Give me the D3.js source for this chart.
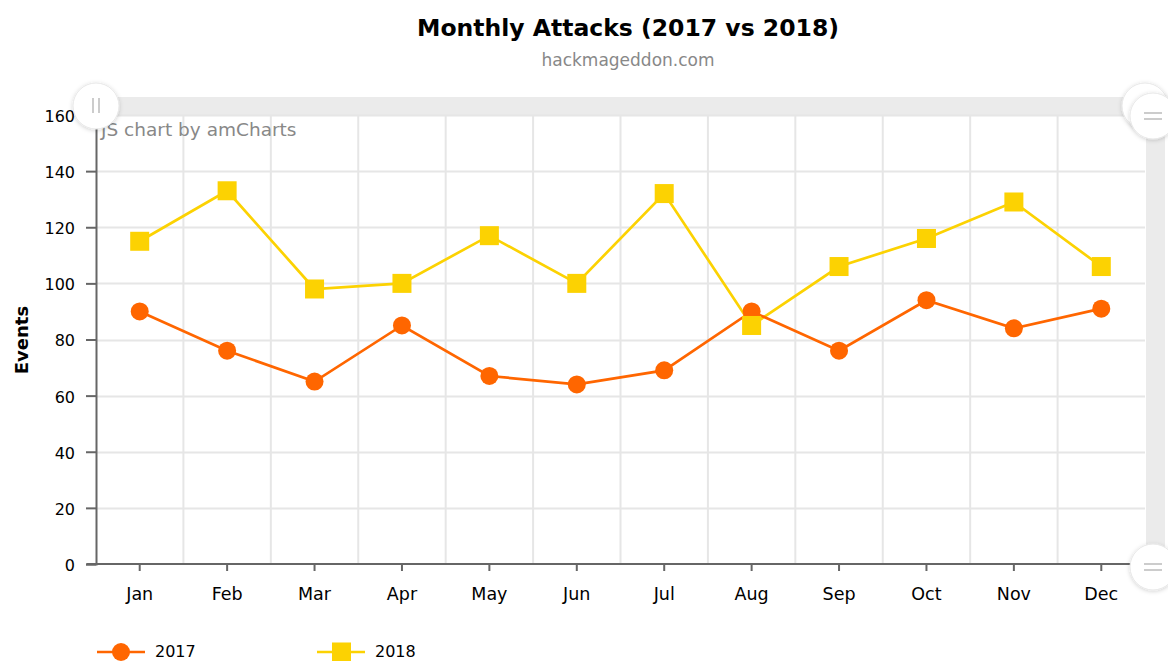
<!DOCTYPE html>
<html><head><meta charset="utf-8">
<script src="https://cdn.jsdelivr.net/npm/d3@7"></script>
<style>
html,body{margin:0;padding:0;background:#fff;}
svg{display:block;font-family:"DejaVu Sans",Verdana,sans-serif;}
</style></head>
<body><svg id="c" width="1168" height="661"></svg>
<script>
const months = ["Jan","Feb","Mar","Apr","May","Jun","Jul","Aug","Sep","Oct","Nov","Dec"];
const values2017 = [90,76,65,85,67,64,69,90,76,94,84,91];
const values2018 = [115,133,98,100,117,100,132,85,106,116,129,106];
const yTicks = [0,20,40,60,80,100,120,140,160];
const seriesNames = ["2017","2018"];

const svg = d3.select("#c");
const L = 96, R = 1145, T = 115, B = 564;
const x = d3.scaleBand().domain(months).range([L, R]).paddingInner(0).paddingOuter(0);
const y = d3.scaleLinear().domain([0,160]).range([B, T]);
const c17 = "#FF6600", c18 = "#FCD202";

// titles
svg.append("text").attr("x",628).attr("y",36).attr("text-anchor","middle")
  .attr("font-weight","bold").attr("font-size",23.5).attr("fill","#000").text("Monthly Attacks (2017 vs 2018)");
svg.append("text").attr("x",628).attr("y",66).attr("text-anchor","middle")
  .attr("font-size",17).attr("fill","#888").text("hackmageddon.com");

// scrollbars (background)
svg.append("rect").attr("x",L).attr("y",97).attr("width",R-L+10).attr("height",18).attr("fill","#ebebeb");
svg.append("rect").attr("x",R+1).attr("y",T).attr("width",19).attr("height",B-T).attr("fill","#ebebeb");

// grid
const g = svg.append("g");
g.selectAll(".hg").data(yTicks.filter(d=>d>0)).join("line")
  .attr("x1",L).attr("x2",R).attr("y1",d=>Math.round(y(d))+0.5).attr("y2",d=>Math.round(y(d))+0.5)
  .attr("stroke","#e6e6e6").attr("stroke-width",2);
g.selectAll(".vg").data(months.slice(1)).join("line")
  .attr("x1",d=>x(d)).attr("x2",d=>x(d)).attr("y1",T).attr("y2",B)
  .attr("stroke","#e6e6e6").attr("stroke-width",2);

// watermark
svg.append("text").attr("x",101).attr("y",136).attr("font-size",18.5).attr("fill","#888").text("JS chart by amCharts");

// axes
const yAxis = svg.append("g").attr("transform",`translate(${L},0)`)
  .call(d3.axisLeft(y).tickValues(yTicks).tickSize(10).tickPadding(11));
yAxis.select(".domain").attr("stroke","#666").attr("stroke-width",2);
yAxis.selectAll(".tick line").attr("stroke","#666").attr("stroke-width",2);
yAxis.selectAll("text").attr("font-size",16).attr("fill","#000").attr("font-family","DejaVu Sans").attr("dy","0.4em");

const xAxis = svg.append("g").attr("transform",`translate(0,${B})`)
  .call(d3.axisBottom(x).tickSize(7).tickPadding(17).tickSizeOuter(0));
xAxis.select(".domain").attr("d",`M${L-9},0H${R}`).attr("stroke","#666").attr("stroke-width",2);
xAxis.selectAll(".tick line").attr("stroke","#666").attr("stroke-width",2);
xAxis.selectAll("text").attr("font-size",17.5).attr("fill","#000").attr("font-family","DejaVu Sans");

svg.append("text").attr("transform","translate(28,340) rotate(-90)").attr("text-anchor","middle")
  .attr("font-weight","bold").attr("font-size",18).attr("fill","#000").text("Events");

// lines
const cx = d => x(d) + x.bandwidth()/2;
const line = d3.line().x(d=>cx(d.m)).y(d=>y(d.v));
const d17 = months.map((m,i)=>({m, v: values2017[i]}));
const d18 = months.map((m,i)=>({m, v: values2018[i]}));
svg.append("path").attr("d",line(d18)).attr("fill","none").attr("stroke",c18).attr("stroke-width",2.7);
svg.append("path").attr("d",line(d17)).attr("fill","none").attr("stroke",c17).attr("stroke-width",2.7);
svg.selectAll(".m17").data(d17).join("circle").attr("cx",d=>cx(d.m)).attr("cy",d=>y(d.v)).attr("r",9).attr("fill",c17);
svg.selectAll(".m18").data(d18).join("rect").attr("x",d=>cx(d.m)-9.5).attr("y",d=>y(d.v)-9.5)
  .attr("width",19).attr("height",19).attr("fill",c18);

// scrollbar grips
const defs = svg.append("defs");
const f = defs.append("filter").attr("id","sh").attr("x","-50%").attr("y","-50%").attr("width","200%").attr("height","200%");
f.append("feDropShadow").attr("dx",0).attr("dy",1).attr("stdDeviation",2).attr("flood-color","#000").attr("flood-opacity",0.18);
function grip(cx0, cy0, horiz){
  const gg = svg.append("g");
  gg.append("circle").attr("cx",cx0).attr("cy",cy0).attr("r",23).attr("fill","#fff").attr("stroke","#e8e8e8").attr("filter","url(#sh)");
  if(horiz){
    [-3,3].forEach(o=>gg.append("line").attr("x1",cx0+o).attr("x2",cx0+o).attr("y1",cy0-8).attr("y2",cy0+7).attr("stroke","#ccc").attr("stroke-width",2));
  } else {
    [-3,3].forEach(o=>gg.append("line").attr("x1",cx0-9).attr("x2",cx0+9).attr("y1",cy0+o).attr("y2",cy0+o).attr("stroke","#ccc").attr("stroke-width",2));
  }
}
grip(96,106,true);
grip(1145,106,false);
grip(1153,116,false);
grip(1153,567,false);

// legend
const lg = svg.append("g");
const legendItems = [{name:seriesNames[0], c:c17, x:97, shape:"circle"},{name:seriesNames[1], c:c18, x:317, shape:"rect"}];
legendItems.forEach(it=>{
  lg.append("line").attr("x1",it.x).attr("x2",it.x+48).attr("y1",652).attr("y2",652).attr("stroke",it.c).attr("stroke-width",2.5);
  if(it.shape==="circle") lg.append("circle").attr("cx",it.x+24).attr("cy",652).attr("r",9).attr("fill",it.c);
  else lg.append("rect").attr("x",it.x+15).attr("y",642.5).attr("width",19).attr("height",19).attr("fill",it.c);
  lg.append("text").attr("x",it.x+58).attr("y",657).attr("font-size",16).attr("fill","#000").text(it.name);
});
</script></body></html>
